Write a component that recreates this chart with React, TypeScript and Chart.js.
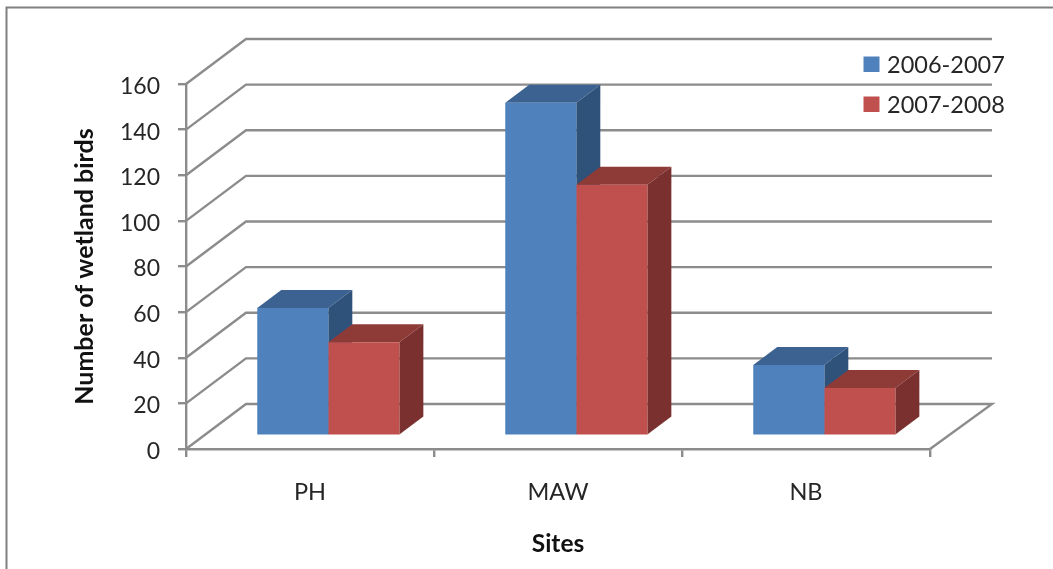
import React, { useEffect, useRef } from "react";
import { Chart, registerables } from "chart.js";

Chart.register(...registerables);

const categories = ["PH", "MAW", "NB"];
const seriesLabels = ["2006-2007", "2007-2008"];
const values2006 = [56, 146, 31];
const values2007 = [41, 110, 21];
const xTitle = "Sites";
const yTitle = "Number of wetland birds";

const FRONT = ["#4F81BD", "#C0504D"];
const TOP = ["#3B6291", "#8E3A37"];
const SIDE = ["#2F527A", "#7A302E"];
const GRID = "#8C8C8C";
const TEXT = "#262626";
const FONT = "Lato, 'Open Sans', sans-serif";

const WALL_DX = 60;
const WALL_DY = 45;
const BAR_SHIFT_X = 18.3;
const BAR_SHIFT_Y = 13.2;
const BAR_DX = 24;
const BAR_DY = 18;

const poly = (ctx: CanvasRenderingContext2D, pts: number[][], fill: string) => {
  ctx.beginPath();
  pts.forEach(([x, y], i) => (i ? ctx.lineTo(x, y) : ctx.moveTo(x, y)));
  ctx.closePath();
  ctx.fillStyle = fill;
  ctx.fill();
};

const threeD = {
  id: "threeD",
  beforeDatasetsDraw(chart: any) {
    const { ctx, chartArea: a, scales } = chart;
    ctx.save();
    ctx.strokeStyle = GRID;
    ctx.lineWidth = 2.4;
    scales.y.ticks.forEach((t: any) => {
      const y = scales.y.getPixelForValue(t.value);
      ctx.beginPath();
      ctx.moveTo(a.left, y);
      ctx.lineTo(a.left + WALL_DX, y - WALL_DY);
      ctx.lineTo(a.right + WALL_DX + 2, y - WALL_DY);
      if (t.value === 0) ctx.lineTo(a.right, a.bottom);
      ctx.stroke();
    });
    ctx.restore();

    ctx.save();
    ctx.translate(BAR_SHIFT_X, -BAR_SHIFT_Y);
    chart.data.datasets.forEach((_: any, d: number) => {
      chart.getDatasetMeta(d).data.forEach((b: any) => {
        const { x, y, base, width } = b.getProps(["x", "y", "base", "width"], true);
        const l = x - width / 2;
        const r = x + width / 2;
        poly(ctx, [[l, y], [l + BAR_DX, y - BAR_DY], [r + BAR_DX, y - BAR_DY], [r, y]], TOP[d]);
        poly(ctx, [[r, y], [r + BAR_DX, y - BAR_DY], [r + BAR_DX, base - BAR_DY], [r, base]], SIDE[d]);
      });
    });
  },
  afterDatasetsDraw(chart: any) {
    const { ctx } = chart;
    ctx.restore();
  },
  afterDraw(chart: any) {
    const { ctx, width, height } = chart;
    ctx.save();
    ctx.strokeStyle = "#808080";
    ctx.lineWidth = 2;
    ctx.beginPath();
    ctx.moveTo(6.5, height);
    ctx.lineTo(6.5, 7.5);
    ctx.lineTo(width, 7.5);
    ctx.stroke();

    ctx.font = `23.5px ${FONT}`;
    ctx.textBaseline = "middle";
    ctx.textAlign = "left";
    chart.data.datasets.forEach((ds: any, i: number) => {
      const y = 64.5 + i * 40;
      ctx.fillStyle = ds.backgroundColor;
      ctx.fillRect(863.5, y - 8, 16, 15.5);
      ctx.fillStyle = TEXT;
      ctx.fillText(ds.label, 887, y + 0.5);
    });
    ctx.restore();
  },
};

export default function App() {
  const ref = useRef<HTMLCanvasElement>(null);
  useEffect(() => {
    const chart = new Chart(ref.current as HTMLCanvasElement, {
      type: "bar",
      data: {
        labels: categories,
        datasets: [
          { label: seriesLabels[0], data: values2006, backgroundColor: FRONT[0], clip: false },
          { label: seriesLabels[1], data: values2007, backgroundColor: FRONT[1], clip: false },
        ] as any,
      },
      plugins: [threeD],
      options: {
        responsive: false,
        animation: false,
        devicePixelRatio: 1,
        layout: { padding: { left: 0, top: 84, right: 123, bottom: 0 } },
        plugins: { legend: { display: false }, tooltip: { enabled: false }, title: { display: false } },
        datasets: { bar: { categoryPercentage: 0.573, barPercentage: 1 } },
        scales: {
          x: {
            afterFit: (s: any) => {
              s.height = 120;
            },
            grid: { display: true, drawOnChartArea: false, drawTicks: true, tickLength: 8, color: GRID, lineWidth: 2.4 },
            border: { display: true, color: GRID, width: 2.4 },
            ticks: { color: TEXT, font: { family: FONT, size: 23.5 }, padding: 21, maxRotation: 0 },
            title: {
              display: true,
              text: xTitle,
              color: "#111111",
              font: { family: FONT, size: 24.5, weight: "bold" },
              padding: { top: 0, bottom: 10 },
            },
          },
          y: {
            min: 0,
            max: 160,
            afterFit: (s: any) => {
              s.width = 186;
            },
            grid: { display: true, drawOnChartArea: false, drawTicks: true, tickLength: 8, color: GRID, lineWidth: 2.4 },
            border: { display: true, color: GRID, width: 2.4 },
            ticks: { stepSize: 20, color: TEXT, font: { family: FONT, size: 23 }, padding: 18, labelOffset: 2.5 },
            title: {
              display: true,
              text: yTitle,
              color: "#111111",
              font: { family: FONT, size: 25, weight: "bold" },
              padding: { top: 70, bottom: 0 },
            },
          },
        },
      } as any,
    });
    return () => chart.destroy();
  }, []);
  return (
    <canvas
      ref={ref}
      width={1053}
      height={569}
      style={{ position: "fixed", left: 0, top: 0, width: 1053, height: 569, filter: "blur(0.4px)" }}
    />
  );
}
